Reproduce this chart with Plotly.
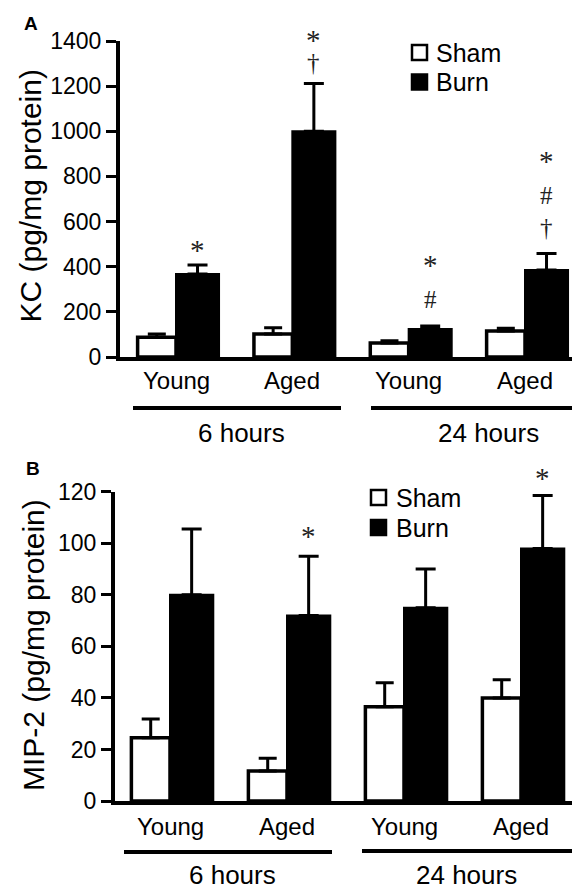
import plotly.graph_objects as go

# ---------------- data ----------------
groups = ["Young", "Aged", "Young", "Aged"]
timepoints = ["6 hours", "24 hours"]
series = ["Sham", "Burn"]

kc_sham = [88, 102, 62, 115]
kc_sham_err = [14, 28, 10, 12]
kc_burn = [368, 1000, 124, 385]
kc_burn_err = [40, 212, 13, 74]

mip_sham = [24.5, 11.6, 36.6, 40]
mip_sham_err = [7.3, 5, 9.3, 7]
mip_burn = [80, 72, 75, 98]
mip_burn_err = [25.5, 23, 15, 20.5]

kc_ticks = [0, 200, 400, 600, 800, 1000, 1200, 1400]
mip_ticks = [0, 20, 40, 60, 80, 100, 120]

# significance marks above burn bars (bottom -> top)
kc_sig = [["*"], ["†", "*"], ["#", "*"], ["†", "#", "*"]]
mip_sig = [[], ["*"], [], ["*"]]

# ---------------- styling / layout ----------------
W, H = 580, 890
PAGE = 8  # page body margin in the browser
FONT = "Liberation Sans, Arial, Helvetica, sans-serif"
SERIF = "Liberation Serif, Times New Roman, serif"

def px(x):
    return (x - PAGE) / W

def py(y):
    return 1 - (y - PAGE) / H

RIGHT = PAGE + W  # screen x of paper right edge

xpos = [0, 1, 2, 3]
SHAM_OFF, SHAM_W = -0.33, 0.33
BURN_OFF, BURN_W = 0.0, 0.37

# pixel offsets of significance marks above the error bar tops
kc_sig_shift = [[20], [21, 48], [27, 66], [26, 58, 97]]
mip_sig_shift = [[], [25], [], [23]]

fig = go.Figure()

def add_panel(sham, sham_err, burn, burn_err, xa, ya):
    fig.add_trace(go.Bar(
        x=xpos, y=sham, name=series[0], xaxis=xa, yaxis=ya,
        offset=SHAM_OFF, width=SHAM_W,
        marker=dict(color="white", line=dict(color="black", width=3.5)),
        error_y=dict(type="data", array=sham_err, arrayminus=[0] * 4, symmetric=False,
                     color="black", thickness=3, width=9),
        showlegend=False,
    ))
    fig.add_trace(go.Bar(
        x=xpos, y=burn, name=series[1], xaxis=xa, yaxis=ya,
        offset=BURN_OFF, width=BURN_W,
        marker=dict(color="black", line=dict(color="black", width=2)),
        error_y=dict(type="data", array=burn_err, arrayminus=[0] * 4, symmetric=False,
                     color="black", thickness=3, width=10),
        showlegend=False,
    ))

add_panel(kc_sham, kc_sham_err, kc_burn, kc_burn_err, "x", "y")
add_panel(mip_sham, mip_sham_err, mip_burn, mip_burn_err, "x2", "y2")

# axes geometry (screen pixel based)
A_left, A_c0, A_c3 = 120, 176, 525
A_unit = (A_c3 - A_c0) / 3
B_left, B_c0, B_c3 = 115, 170, 521
B_unit = (B_c3 - B_c0) / 3

xcommon = dict(
    tickmode="array", tickvals=xpos, ticktext=groups, showticklabels=False,
    showline=True, linecolor="black", linewidth=4, ticks="",
    showgrid=False, zeroline=False, fixedrange=True, automargin=False,
)
ycommon = dict(
    showline=True, linecolor="black", linewidth=4,
    ticks="outside", ticklen=10, tickwidth=3, tickcolor="black",
    tickfont=dict(family=FONT, size=23, color="black"),
    showgrid=False, zeroline=False, fixedrange=True, automargin=False,
)

fig.update_layout(
    template="none",
    width=W, height=H, autosize=False,
    margin=dict(l=0, r=0, t=0, b=0, pad=0, autoexpand=False),
    paper_bgcolor="white", plot_bgcolor="white",
    barmode="overlay", showlegend=False,
    xaxis=dict(xcommon, domain=[px(A_left), 1],
               range=[-(A_c0 - A_left) / A_unit, 3 + (RIGHT - A_c3) / A_unit], anchor="y"),
    yaxis=dict(ycommon, domain=[py(357), py(41)], range=[0, 1400],
               tickvals=kc_ticks, anchor="x"),
    xaxis2=dict(xcommon, domain=[px(B_left), 1],
                range=[-(B_c0 - B_left) / B_unit, 3 + (RIGHT - B_c3) / B_unit], anchor="y2"),
    yaxis2=dict(ycommon, domain=[py(801), py(491.7)], range=[0, 120],
                tickvals=mip_ticks, anchor="x2"),
)

ann = []
shapes = []

# category labels under each group
for xr, ly in [("x", 381), ("x2", 826)]:
    for i, g in enumerate(groups):
        ann.append(dict(x=xpos[i], y=py(ly), xref=xr, yref="paper", text=g,
                        showarrow=False, xanchor="center", yanchor="middle",
                        font=dict(family=FONT, size=24, color="black")))

# significance marks
def add_sig(sig, shifts, burn, burn_err, xr, yr):
    for i, marks in enumerate(sig):
        for m, s in zip(marks, shifts[i]):
            corr = -5 if m == "*" else 0
            ann.append(dict(
                x=xpos[i] + BURN_OFF + BURN_W / 2, y=burn[i] + burn_err[i],
                xref=xr, yref=yr, text=m, showarrow=False,
                xanchor="center", yanchor="middle", yshift=s + corr,
                font=dict(family=SERIF, size=29 if m == "*" else 25, color="#222"),
            ))

add_sig(kc_sig, kc_sig_shift, kc_burn, kc_burn_err, "x", "y")
add_sig(mip_sig, mip_sig_shift, mip_burn, mip_burn_err, "x2", "y2")

# panel letters
ann.append(dict(x=px(31), y=py(23), xref="paper", yref="paper", text="<b>A</b>",
                showarrow=False, xanchor="center", yanchor="middle",
                font=dict(family=FONT, size=19, color="black")))
ann.append(dict(x=px(33), y=py(468), xref="paper", yref="paper", text="<b>B</b>",
                showarrow=False, xanchor="center", yanchor="middle",
                font=dict(family=FONT, size=19, color="black")))

# y titles
ann.append(dict(x=px(30), y=py(196.5), xref="paper", yref="paper", text="KC (pg/mg protein)",
                textangle=-90, showarrow=False, xanchor="center", yanchor="middle",
                font=dict(family=FONT, size=30, color="black")))
ann.append(dict(x=px(33), y=py(645), xref="paper", yref="paper", text="MIP-2 (pg/mg protein)",
                textangle=-90, showarrow=False, xanchor="center", yanchor="middle",
                font=dict(family=FONT, size=30, color="black")))

# time point underlines and labels
tp_layout = [
    # (x0, x1, line_y, text_x, text_y)
    [(133, 341, 408, 242, 433), (371, 580, 408, 488, 433)],
    [(124, 332, 852, 232, 875), (362, 577, 851, 466, 875)],
]
for panel in tp_layout:
    for (x0, x1, ly, tx, ty), label in zip(panel, timepoints):
        shapes.append(dict(type="line", xref="paper", yref="paper",
                           x0=px(x0), x1=px(x1), y0=py(ly), y1=py(ly),
                           line=dict(color="black", width=4)))
        ann.append(dict(x=px(tx), y=py(ty), xref="paper", yref="paper", text=label,
                        showarrow=False, xanchor="center", yanchor="middle",
                        font=dict(family=FONT, size=26, color="black")))

# legends
leg_layout = [
    # (square x0, x1, sham y-center, burn y-center, text x)
    (412, 427, 52.5, 82, 434),
    (371, 386, 497.5, 527.5, 394),
]
for (sx0, sx1, ys, yb, tx) in leg_layout:
    half = (sx1 - sx0) / 2
    for yc, name, fill in [(ys, series[0], "white"), (yb, series[1], "black")]:
        shapes.append(dict(type="rect", xref="paper", yref="paper",
                           x0=px(sx0), x1=px(sx1), y0=py(yc + half), y1=py(yc - half),
                           fillcolor=fill, line=dict(color="black", width=2.5)))
        ann.append(dict(x=px(tx), y=py(yc), xref="paper", yref="paper", text=name,
                        showarrow=False, xanchor="left", yanchor="middle",
                        font=dict(family=FONT, size=25, color="black")))

fig.update_layout(annotations=ann, shapes=shapes)
fig.update_traces(cliponaxis=False)

fig.write_html("out.html")
